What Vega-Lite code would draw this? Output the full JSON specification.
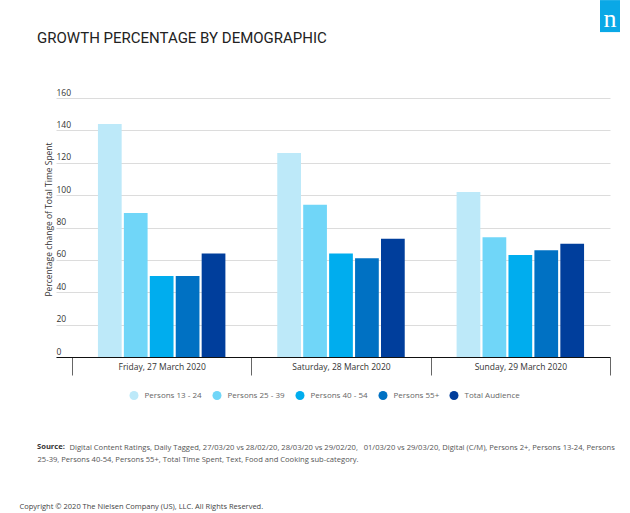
{
  "$schema": "https://vega.github.io/schema/vega-lite/v6.json",
  "autosize": {"type": "none"},
  "padding": {"left": 56, "top": 98, "right": 20, "bottom": 156},
  "width": 554,
  "height": 259,
  "background": "white",
  "title": {
    "text": "GROWTH PERCENTAGE BY DEMOGRAPHIC",
    "subtitle": "Source:",
    "anchor": "start",
    "frame": "group",
    "dx": -19,
    "offset": 0,
    "dy": 451,
    "subtitlePadding": 397.5,
    "font": "Roboto",
    "fontSize": 15,
    "fontWeight": "normal",
    "color": "#222222",
    "subtitleFont": "Open Sans",
    "subtitleFontSize": 7.6,
    "subtitleFontWeight": "bold",
    "subtitleColor": "#333333"
  },
  "config": {
    "font": "Open Sans",
    "view": {"stroke": null},
    "legend": {
      "orient": "none",
      "legendX": 73.5,
      "legendY": 293,
      "direction": "horizontal",
      "symbolType": "circle",
      "symbolSize": 81,
      "symbolStrokeWidth": 0,
      "labelFontSize": 8,
      "labelColor": "#666666",
      "labelOffset": 6,
      "columnPadding": 10,
      "padding": 0
    }
  },
  "resolve": {"scale": {"x": "independent", "y": "independent"}},
  "layer": [
    {
      "data": {
        "values": [
          {"day": "Friday, 27 March 2020", "group": "Persons 13 - 24", "value": 144},
          {"day": "Friday, 27 March 2020", "group": "Persons 25 - 39", "value": 89},
          {"day": "Friday, 27 March 2020", "group": "Persons 40 - 54", "value": 50},
          {"day": "Friday, 27 March 2020", "group": "Persons 55+", "value": 50},
          {"day": "Friday, 27 March 2020", "group": "Total Audience", "value": 64},
          {"day": "Saturday, 28 March 2020", "group": "Persons 13 - 24", "value": 126},
          {"day": "Saturday, 28 March 2020", "group": "Persons 25 - 39", "value": 94},
          {"day": "Saturday, 28 March 2020", "group": "Persons 40 - 54", "value": 64},
          {"day": "Saturday, 28 March 2020", "group": "Persons 55+", "value": 61},
          {"day": "Saturday, 28 March 2020", "group": "Total Audience", "value": 73},
          {"day": "Sunday, 29 March 2020", "group": "Persons 13 - 24", "value": 102},
          {"day": "Sunday, 29 March 2020", "group": "Persons 25 - 39", "value": 74},
          {"day": "Sunday, 29 March 2020", "group": "Persons 40 - 54", "value": 63},
          {"day": "Sunday, 29 March 2020", "group": "Persons 55+", "value": 66},
          {"day": "Sunday, 29 March 2020", "group": "Total Audience", "value": 70}
        ]
      },
      "mark": {"type": "bar"},
      "encoding": {
        "x": {
          "field": "day",
          "type": "nominal",
          "sort": null,
          "scale": {
            "domain": ["Friday, 27 March 2020", "Saturday, 28 March 2020", "Sunday, 29 March 2020"],
            "paddingInner": 0,
            "paddingOuter": 0.0446,
            "align": 1
          },
          "axis": {
            "title": "Digital Content Ratings, Daily Tagged, 27/03/20 vs 28/02/20, 28/03/20 vs 29/02/20,\u2002 01/03/20 vs 29/03/20, Digital (C/M), Persons 2+, Persons 13-24, Persons",
            "titleX": 13,
            "titleY": 86,
            "titleAlign": "left",
            "titleAnchor": "start",
            "titleBaseline": "top",
            "titleFontSize": 7.6,
            "titleFontWeight": "normal",
            "titleColor": "#555555",
            "labelAngle": 0,
            "labelFontSize": 8.5,
            "labelColor": "#333333",
            "labelPadding": -13,
            "labelBaseline": "top",
            "tickBand": "extent",
            "tickSize": 18,
            "tickColor": "#666666",
            "domainColor": "#111111",
            "grid": false
          }
        },
        "xOffset": {
          "field": "group",
          "type": "nominal",
          "sort": null,
          "scale": {"paddingInner": 0.085, "paddingOuter": 1.56}
        },
        "y": {
          "field": "value",
          "type": "quantitative",
          "scale": {"domain": [0, 160], "nice": false},
          "axis": {
            "title": "Percentage change of Total Time Spent",
            "titleX": -8,
            "titleY": 121,
            "titleAngle": -90,
            "titleAlign": "center",
            "titleAnchor": "middle",
            "titleBaseline": "middle",
            "titleFontSize": 8.5,
            "titleFontWeight": "normal",
            "titleColor": "#333333",
            "values": [0, 20, 40, 60, 80, 100, 120, 140, 160],
            "labelAlign": "left",
            "labelPadding": 0,
            "ticks": false,
            "tickSize": 0,
            "domain": false,
            "labelBaseline": "alphabetic",
            "labelOffset": -3,
            "labelFlush": false,
            "labelFontSize": 8.5,
            "labelColor": "#333333",
            "gridColor": "#dcdcdc"
          }
        },
        "color": {
          "field": "group",
          "type": "nominal",
          "sort": null,
          "scale": {
            "domain": ["Persons 13 - 24", "Persons 25 - 39", "Persons 40 - 54", "Persons 55+", "Total Audience"],
            "range": ["#bde9f9", "#70d6f8", "#00adee", "#0071c3", "#003e9c"]
          },
          "legend": {"title": null}
        }
      }
    },
    {
      "data": {"values": [{}]},
      "encoding": {
        "x": {
          "datum": "Sunday, 29 March 2020",
          "type": "nominal",
          "bandPosition": 0.944,
          "scale": {
            "domain": ["Friday, 27 March 2020", "Saturday, 28 March 2020", "Sunday, 29 March 2020"],
            "paddingInner": 0,
            "paddingOuter": 0.0446,
            "align": 1
          },
          "axis": {
            "orient": "top",
            "title": "25-39, Persons 40-54, Persons 55+, Total Time Spent, Text, Food and Cooking sub-category.",
            "titleX": -19,
            "titleY": 357,
            "titleAlign": "left",
            "titleAnchor": "start",
            "titleBaseline": "top",
            "titleFontSize": 7.6,
            "titleFontWeight": "normal",
            "titleColor": "#555555",
            "labels": false,
            "ticks": false,
            "domain": false,
            "grid": false
          }
        }
      },
      "layer": [
        {
          "mark": {"type": "point", "shape": "M-0.625,-1H0.625V1H-0.625Z", "size": 1024, "filled": true, "opacity": 1, "color": "#0aa8e6", "strokeWidth": 0},
          "encoding": {
            "y": {
              "datum": 210.6,
              "type": "quantitative",
              "scale": {"domain": [0, 160], "nice": false},
              "axis": {
                "orient": "right",
                "title": "Copyright © 2020 The Nielsen Company (US), LLC. All Rights Reserved.",
                "titleAngle": 0,
                "titleX": -591,
                "titleY": 408,
                "titleAlign": "left",
                "titleAnchor": "start",
                "titleBaseline": "middle",
                "titleFontSize": 7.5,
                "titleFontWeight": "normal",
                "titleColor": "#444444",
                "labels": false,
                "ticks": false,
                "domain": false,
                "grid": false
              }
            }
          }
        },
        {
          "mark": {"type": "text", "text": "n", "font": "Liberation Serif, DejaVu Serif, serif", "fontSize": 26, "color": "white", "align": "center", "baseline": "alphabetic"},
          "encoding": {
            "y": {"datum": 203.9, "type": "quantitative"}
          }
        }
      ]
    }
  ]
}
